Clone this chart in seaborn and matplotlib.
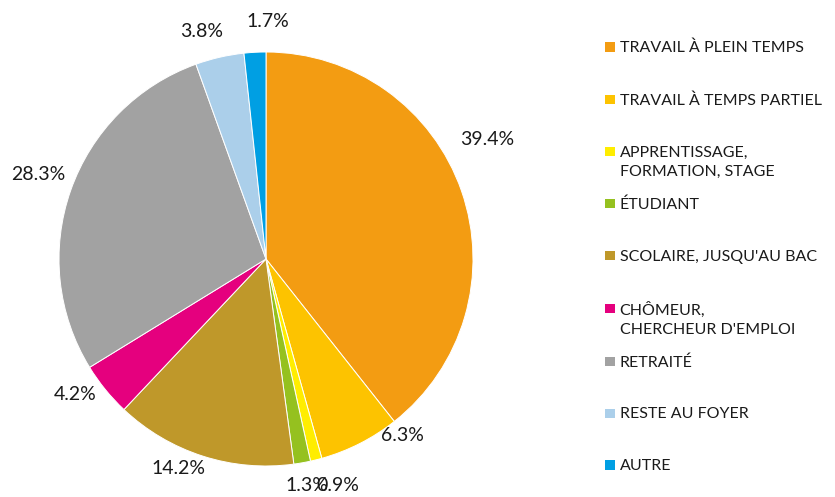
import matplotlib
matplotlib.use("Agg")
import matplotlib.pyplot as plt
import seaborn as sns
from matplotlib.patches import Rectangle
from matplotlib.legend_handler import HandlerPatch


# Data
categories = ["TRAVAIL À PLEIN TEMPS",
              "TRAVAIL À TEMPS PARTIEL",
              "APPRENTISSAGE,\nFORMATION, STAGE",
              "ÉTUDIANT",
              "SCOLAIRE, JUSQU'AU BAC",
              "CHÔMEUR,\nCHERCHEUR D'EMPLOI",
              "RETRAITÉ",
              "RESTE AU FOYER",
              "AUTRE"]
shares = [39.4, 6.3, 0.9, 1.3, 14.2, 4.2, 28.3, 3.8, 1.7]
slice_colors = ["#F39C12", "#FDC300", "#FFED00", "#95C11F", "#BF982A",
                "#E5007E", "#A2A2A2", "#ABCFEA", "#009FE3"]

# label nudges in pixels (right, down) from the default pie position
label_nudge = [(0, -43), (30, -32), (15, 0), (0, -4), (-16, -13),
               (-9, -12), (-7, -7), (-12, 0), (14, -4)]


# Plot
sns.set_style("white")
plt.rcParams['font.family'] = ['Lato', 'DejaVu Sans']
colors = sns.color_palette(slice_colors)

fig = plt.figure(figsize=(8.35, 4.97), dpi=100)
# pie centre at (266, 259) px, radius 207 px
r_px = 207.0
ax = fig.add_axes([0, 0, 497 / 835, 1])

wedges, texts, autotexts = ax.pie(shares,
                                  colors=colors,
                                  startangle=90,
                                  counterclock=False,
                                  autopct=lambda p: "%.1f%%" % p,
                                  pctdistance=1.13,
                                  wedgeprops={'linewidth': 0.7,
                                              'edgecolor': 'white'},
                                  textprops={'fontsize': 14,
                                             'color': '#1a1a1a'})
for t, v, (dx, dy) in zip(autotexts, shares, label_nudge):
    t.set_text("%.1f%%" % v)
    t.set_clip_on(False)
    x, y = t.get_position()
    t.set_position((x + dx / r_px, y - dy / r_px))

ax.set_xlim(-266 / r_px, (497 - 266) / r_px)
ax.set_ylim(-(497 - 259) / r_px, 259 / r_px)
ax.set_aspect('auto')
ax.axis('off')


# Legend: fixed row pitch, square aligned with first text line
def square(legend, orig_handle, xdescent, ydescent, width, height, fontsize):
    s = 0.6 * fontsize
    y0 = -ydescent + (height - s) / 2 + 0.68 * fontsize
    return Rectangle((-xdescent + width - s, y0), s, s)


labels = [c if "\n" in c else c + "\n " for c in categories]
handles = [Rectangle((0, 0), 1, 1, facecolor=c, edgecolor='none')
           for c in colors]
leg = fig.legend(handles, labels,
                 loc='upper left',
                 bbox_to_anchor=(602 / 835, 1 - 41 / 497),
                 frameon=False,
                 fontsize=11.5,
                 handlelength=0.8,
                 handletextpad=0.3,
                 labelspacing=1.13,
                 borderpad=0, borderaxespad=0,
                 handler_map={Rectangle: HandlerPatch(patch_func=square)})
for t in leg.get_texts():
    t.set_linespacing(1.52)
    t.set_color('#1a1a1a')

plt.savefig('out.png', dpi=100)
